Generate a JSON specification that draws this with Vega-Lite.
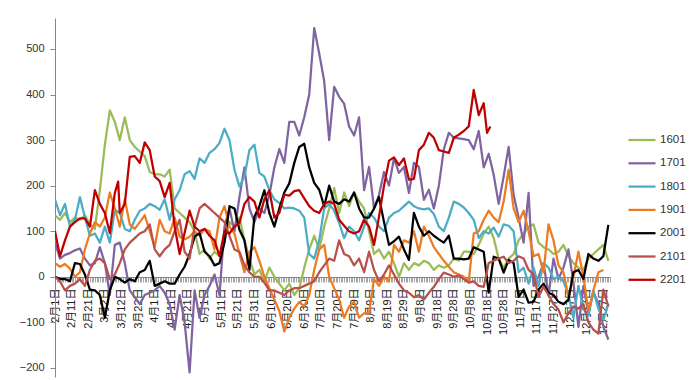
{
  "$schema": "https://vega.github.io/schema/vega-lite/v6.json",
  "width": 555,
  "height": 359,
  "autosize": {"type": "none"},
  "padding": {"left": 55, "top": 18, "right": 86, "bottom": 3},
  "background": "white",
  "config": {"view": {"stroke": null}, "font": "Liberation Sans"},
  "data": {"values": [
{"date":"2016/02/01","series":"1601","value":135},{"date":"2016/02/04","series":"1601","value":125},{"date":"2016/02/07","series":"1601","value":140},{"date":"2016/02/10","series":"1601","value":120},{"date":"2016/02/13","series":"1601","value":130},{"date":"2016/02/16","series":"1601","value":125},{"date":"2016/02/19","series":"1601","value":135},{"date":"2016/02/22","series":"1601","value":115},{"date":"2016/02/25","series":"1601","value":105},{"date":"2016/02/28","series":"1601","value":190},
{"date":"2016/03/02","series":"1601","value":290},{"date":"2016/03/05","series":"1601","value":365},{"date":"2016/03/08","series":"1601","value":340},{"date":"2016/03/11","series":"1601","value":300},{"date":"2016/03/14","series":"1601","value":350},{"date":"2016/03/17","series":"1601","value":300},{"date":"2016/03/20","series":"1601","value":285},{"date":"2016/03/23","series":"1601","value":275},{"date":"2016/03/26","series":"1601","value":265},{"date":"2016/03/29","series":"1601","value":230},
{"date":"2016/04/01","series":"1601","value":225},{"date":"2016/04/04","series":"1601","value":225},{"date":"2016/04/07","series":"1601","value":220},{"date":"2016/04/10","series":"1601","value":235},{"date":"2016/04/13","series":"1601","value":150},{"date":"2016/04/16","series":"1601","value":140},{"date":"2016/04/19","series":"1601","value":130},{"date":"2016/04/22","series":"1601","value":120},{"date":"2016/04/25","series":"1601","value":100},{"date":"2016/04/28","series":"1601","value":50},
{"date":"2016/05/01","series":"1601","value":60},{"date":"2016/05/04","series":"1601","value":40},{"date":"2016/05/07","series":"1601","value":55},{"date":"2016/05/10","series":"1601","value":45},{"date":"2016/05/13","series":"1601","value":80},{"date":"2016/05/16","series":"1601","value":120},{"date":"2016/05/19","series":"1601","value":110},{"date":"2016/05/22","series":"1601","value":130},{"date":"2016/05/25","series":"1601","value":80},{"date":"2016/05/28","series":"1601","value":40},
{"date":"2016/05/31","series":"1601","value":5},{"date":"2016/06/03","series":"1601","value":15},{"date":"2016/06/06","series":"1601","value":-10},{"date":"2016/06/09","series":"1601","value":20},{"date":"2016/06/12","series":"1601","value":0},{"date":"2016/06/15","series":"1601","value":-15},{"date":"2016/06/18","series":"1601","value":-30},{"date":"2016/06/21","series":"1601","value":-15},{"date":"2016/06/24","series":"1601","value":-40},{"date":"2016/06/27","series":"1601","value":-25},
{"date":"2016/06/30","series":"1601","value":20},{"date":"2016/07/03","series":"1601","value":60},{"date":"2016/07/06","series":"1601","value":90},{"date":"2016/07/09","series":"1601","value":60},{"date":"2016/07/12","series":"1601","value":110},{"date":"2016/07/15","series":"1601","value":150},{"date":"2016/07/18","series":"1601","value":195},{"date":"2016/07/21","series":"1601","value":140},{"date":"2016/07/24","series":"1601","value":185},{"date":"2016/07/27","series":"1601","value":155},
{"date":"2016/07/30","series":"1601","value":185},{"date":"2016/08/02","series":"1601","value":165},{"date":"2016/08/05","series":"1601","value":150},{"date":"2016/08/08","series":"1601","value":100},{"date":"2016/08/11","series":"1601","value":50},{"date":"2016/08/14","series":"1601","value":60},{"date":"2016/08/17","series":"1601","value":40},{"date":"2016/08/20","series":"1601","value":55},{"date":"2016/08/23","series":"1601","value":30},{"date":"2016/08/26","series":"1601","value":0},
{"date":"2016/08/29","series":"1601","value":30},{"date":"2016/09/01","series":"1601","value":15},{"date":"2016/09/04","series":"1601","value":30},{"date":"2016/09/07","series":"1601","value":25},{"date":"2016/09/10","series":"1601","value":35},{"date":"2016/09/13","series":"1601","value":30},{"date":"2016/09/16","series":"1601","value":15},{"date":"2016/09/19","series":"1601","value":25},{"date":"2016/09/22","series":"1601","value":20},{"date":"2016/09/25","series":"1601","value":25},
{"date":"2016/09/28","series":"1601","value":40},{"date":"2016/10/01","series":"1601","value":35},{"date":"2016/10/04","series":"1601","value":55},{"date":"2016/10/07","series":"1601","value":55},{"date":"2016/10/10","series":"1601","value":50},{"date":"2016/10/13","series":"1601","value":70},{"date":"2016/10/16","series":"1601","value":95},{"date":"2016/10/19","series":"1601","value":110},{"date":"2016/10/22","series":"1601","value":85},{"date":"2016/10/25","series":"1601","value":40},
{"date":"2016/10/28","series":"1601","value":20},{"date":"2016/10/31","series":"1601","value":40},{"date":"2016/11/03","series":"1601","value":50},{"date":"2016/11/06","series":"1601","value":80},{"date":"2016/11/09","series":"1601","value":95},{"date":"2016/11/12","series":"1601","value":110},{"date":"2016/11/15","series":"1601","value":115},{"date":"2016/11/18","series":"1601","value":75},{"date":"2016/11/21","series":"1601","value":65},{"date":"2016/11/24","series":"1601","value":60},
{"date":"2016/11/27","series":"1601","value":50},{"date":"2016/11/30","series":"1601","value":55},{"date":"2016/12/03","series":"1601","value":70},{"date":"2016/12/06","series":"1601","value":45},{"date":"2016/12/09","series":"1601","value":30},{"date":"2016/12/12","series":"1601","value":20},{"date":"2016/12/15","series":"1601","value":15},{"date":"2016/12/18","series":"1601","value":40},{"date":"2016/12/21","series":"1601","value":50},{"date":"2016/12/24","series":"1601","value":60},
{"date":"2016/12/27","series":"1601","value":70},{"date":"2016/12/30","series":"1601","value":35},

{"date":"2016/02/01","series":"1701","value":75},{"date":"2016/02/04","series":"1701","value":40},{"date":"2016/02/07","series":"1701","value":48},{"date":"2016/02/10","series":"1701","value":52},{"date":"2016/02/13","series":"1701","value":58},{"date":"2016/02/16","series":"1701","value":62},{"date":"2016/02/19","series":"1701","value":40},{"date":"2016/02/22","series":"1701","value":25},{"date":"2016/02/25","series":"1701","value":30},{"date":"2016/02/28","series":"1701","value":65},
{"date":"2016/03/02","series":"1701","value":30},{"date":"2016/03/05","series":"1701","value":-40},{"date":"2016/03/08","series":"1701","value":70},{"date":"2016/03/11","series":"1701","value":75},{"date":"2016/03/14","series":"1701","value":30},{"date":"2016/03/17","series":"1701","value":-30},{"date":"2016/03/20","series":"1701","value":-45},{"date":"2016/03/23","series":"1701","value":-60},{"date":"2016/03/26","series":"1701","value":-40},{"date":"2016/03/29","series":"1701","value":-35},
{"date":"2016/04/01","series":"1701","value":-30},{"date":"2016/04/04","series":"1701","value":-20},{"date":"2016/04/07","series":"1701","value":-35},{"date":"2016/04/10","series":"1701","value":-60},{"date":"2016/04/13","series":"1701","value":-116},{"date":"2016/04/16","series":"1701","value":-40},{"date":"2016/04/19","series":"1701","value":-100},{"date":"2016/04/22","series":"1701","value":-210},{"date":"2016/04/25","series":"1701","value":-30},{"date":"2016/04/28","series":"1701","value":-90},
{"date":"2016/05/01","series":"1701","value":-40},{"date":"2016/05/04","series":"1701","value":-20},{"date":"2016/05/07","series":"1701","value":5},{"date":"2016/05/10","series":"1701","value":-40},{"date":"2016/05/13","series":"1701","value":110},{"date":"2016/05/16","series":"1701","value":150},{"date":"2016/05/19","series":"1701","value":100},{"date":"2016/05/22","series":"1701","value":175},{"date":"2016/05/25","series":"1701","value":240},{"date":"2016/05/28","series":"1701","value":150},
{"date":"2016/05/31","series":"1701","value":120},{"date":"2016/06/03","series":"1701","value":150},{"date":"2016/06/06","series":"1701","value":140},{"date":"2016/06/09","series":"1701","value":180},{"date":"2016/06/12","series":"1701","value":240},{"date":"2016/06/15","series":"1701","value":280},{"date":"2016/06/18","series":"1701","value":250},{"date":"2016/06/21","series":"1701","value":340},{"date":"2016/06/24","series":"1701","value":340},{"date":"2016/06/27","series":"1701","value":310},
{"date":"2016/06/30","series":"1701","value":350},{"date":"2016/07/03","series":"1701","value":400},{"date":"2016/07/06","series":"1701","value":546},{"date":"2016/07/09","series":"1701","value":490},{"date":"2016/07/12","series":"1701","value":430},{"date":"2016/07/15","series":"1701","value":300},{"date":"2016/07/18","series":"1701","value":417},{"date":"2016/07/21","series":"1701","value":395},{"date":"2016/07/24","series":"1701","value":380},{"date":"2016/07/27","series":"1701","value":330},
{"date":"2016/07/30","series":"1701","value":310},{"date":"2016/08/02","series":"1701","value":350},{"date":"2016/08/05","series":"1701","value":190},{"date":"2016/08/08","series":"1701","value":241},{"date":"2016/08/11","series":"1701","value":150},{"date":"2016/08/14","series":"1701","value":180},{"date":"2016/08/17","series":"1701","value":230},{"date":"2016/08/20","series":"1701","value":200},{"date":"2016/08/23","series":"1701","value":260},{"date":"2016/08/26","series":"1701","value":228},
{"date":"2016/08/29","series":"1701","value":241},{"date":"2016/09/01","series":"1701","value":184},{"date":"2016/09/04","series":"1701","value":250},{"date":"2016/09/07","series":"1701","value":241},{"date":"2016/09/10","series":"1701","value":169},{"date":"2016/09/13","series":"1701","value":191},{"date":"2016/09/16","series":"1701","value":150},{"date":"2016/09/19","series":"1701","value":200},{"date":"2016/09/22","series":"1701","value":280},{"date":"2016/09/25","series":"1701","value":316},
{"date":"2016/09/28","series":"1701","value":305},{"date":"2016/10/01","series":"1701","value":304},{"date":"2016/10/04","series":"1701","value":302},{"date":"2016/10/07","series":"1701","value":300},{"date":"2016/10/10","series":"1701","value":280},{"date":"2016/10/13","series":"1701","value":320},{"date":"2016/10/16","series":"1701","value":240},{"date":"2016/10/19","series":"1701","value":270},{"date":"2016/10/22","series":"1701","value":224},{"date":"2016/10/25","series":"1701","value":160},
{"date":"2016/10/28","series":"1701","value":220},{"date":"2016/10/31","series":"1701","value":285},{"date":"2016/11/03","series":"1701","value":180},{"date":"2016/11/06","series":"1701","value":130},{"date":"2016/11/09","series":"1701","value":75},{"date":"2016/11/12","series":"1701","value":184},{"date":"2016/11/15","series":"1701","value":-20},{"date":"2016/11/18","series":"1701","value":0},{"date":"2016/11/21","series":"1701","value":30},{"date":"2016/11/24","series":"1701","value":-40},
{"date":"2016/11/27","series":"1701","value":40},{"date":"2016/11/30","series":"1701","value":-5},{"date":"2016/12/03","series":"1701","value":20},{"date":"2016/12/06","series":"1701","value":60},{"date":"2016/12/09","series":"1701","value":-13},{"date":"2016/12/12","series":"1701","value":-110},{"date":"2016/12/15","series":"1701","value":-20},{"date":"2016/12/18","series":"1701","value":-80},{"date":"2016/12/21","series":"1701","value":-35},{"date":"2016/12/24","series":"1701","value":-57},
{"date":"2016/12/27","series":"1701","value":-110},{"date":"2016/12/30","series":"1701","value":-138},

{"date":"2016/02/01","series":"1801","value":170},{"date":"2016/02/04","series":"1801","value":135},{"date":"2016/02/07","series":"1801","value":160},{"date":"2016/02/10","series":"1801","value":110},{"date":"2016/02/13","series":"1801","value":125},{"date":"2016/02/16","series":"1801","value":175},{"date":"2016/02/19","series":"1801","value":130},{"date":"2016/02/22","series":"1801","value":90},{"date":"2016/02/25","series":"1801","value":95},{"date":"2016/02/28","series":"1801","value":75},
{"date":"2016/03/02","series":"1801","value":110},{"date":"2016/03/05","series":"1801","value":75},{"date":"2016/03/08","series":"1801","value":147},{"date":"2016/03/11","series":"1801","value":140},{"date":"2016/03/14","series":"1801","value":105},{"date":"2016/03/17","series":"1801","value":100},{"date":"2016/03/20","series":"1801","value":125},{"date":"2016/03/23","series":"1801","value":145},{"date":"2016/03/26","series":"1801","value":150},{"date":"2016/03/29","series":"1801","value":160},
{"date":"2016/04/01","series":"1801","value":155},{"date":"2016/04/04","series":"1801","value":147},{"date":"2016/04/07","series":"1801","value":170},{"date":"2016/04/10","series":"1801","value":125},{"date":"2016/04/13","series":"1801","value":170},{"date":"2016/04/16","series":"1801","value":190},{"date":"2016/04/19","series":"1801","value":225},{"date":"2016/04/22","series":"1801","value":232},{"date":"2016/04/25","series":"1801","value":215},{"date":"2016/04/28","series":"1801","value":260},
{"date":"2016/05/01","series":"1801","value":250},{"date":"2016/05/04","series":"1801","value":272},{"date":"2016/05/07","series":"1801","value":280},{"date":"2016/05/10","series":"1801","value":294},{"date":"2016/05/13","series":"1801","value":325},{"date":"2016/05/16","series":"1801","value":300},{"date":"2016/05/19","series":"1801","value":235},{"date":"2016/05/22","series":"1801","value":198},{"date":"2016/05/25","series":"1801","value":220},{"date":"2016/05/28","series":"1801","value":278},
{"date":"2016/05/31","series":"1801","value":290},{"date":"2016/06/03","series":"1801","value":228},{"date":"2016/06/06","series":"1801","value":220},{"date":"2016/06/09","series":"1801","value":190},{"date":"2016/06/12","series":"1801","value":170},{"date":"2016/06/15","series":"1801","value":162},{"date":"2016/06/18","series":"1801","value":150},{"date":"2016/06/21","series":"1801","value":152},{"date":"2016/06/24","series":"1801","value":150},{"date":"2016/06/27","series":"1801","value":145},
{"date":"2016/06/30","series":"1801","value":130},{"date":"2016/07/03","series":"1801","value":50},{"date":"2016/07/06","series":"1801","value":40},{"date":"2016/07/09","series":"1801","value":80},{"date":"2016/07/12","series":"1801","value":150},{"date":"2016/07/15","series":"1801","value":160},{"date":"2016/07/18","series":"1801","value":145},{"date":"2016/07/21","series":"1801","value":118},{"date":"2016/07/24","series":"1801","value":85},{"date":"2016/07/27","series":"1801","value":110},
{"date":"2016/07/30","series":"1801","value":100},{"date":"2016/08/02","series":"1801","value":80},{"date":"2016/08/05","series":"1801","value":110},{"date":"2016/08/08","series":"1801","value":140},{"date":"2016/08/11","series":"1801","value":130},{"date":"2016/08/14","series":"1801","value":110},{"date":"2016/08/17","series":"1801","value":100},{"date":"2016/08/20","series":"1801","value":130},{"date":"2016/08/23","series":"1801","value":140},{"date":"2016/08/26","series":"1801","value":145},
{"date":"2016/08/29","series":"1801","value":155},{"date":"2016/09/01","series":"1801","value":165},{"date":"2016/09/04","series":"1801","value":155},{"date":"2016/09/07","series":"1801","value":150},{"date":"2016/09/10","series":"1801","value":148},{"date":"2016/09/13","series":"1801","value":150},{"date":"2016/09/16","series":"1801","value":138},{"date":"2016/09/19","series":"1801","value":110},{"date":"2016/09/22","series":"1801","value":100},{"date":"2016/09/25","series":"1801","value":130},
{"date":"2016/09/28","series":"1801","value":165},{"date":"2016/10/01","series":"1801","value":160},{"date":"2016/10/04","series":"1801","value":152},{"date":"2016/10/07","series":"1801","value":140},{"date":"2016/10/10","series":"1801","value":125},{"date":"2016/10/13","series":"1801","value":85},{"date":"2016/10/16","series":"1801","value":100},{"date":"2016/10/19","series":"1801","value":95},{"date":"2016/10/22","series":"1801","value":108},{"date":"2016/10/25","series":"1801","value":88},
{"date":"2016/10/28","series":"1801","value":115},{"date":"2016/10/31","series":"1801","value":112},{"date":"2016/11/03","series":"1801","value":100},{"date":"2016/11/06","series":"1801","value":10},{"date":"2016/11/09","series":"1801","value":20},{"date":"2016/11/12","series":"1801","value":-15},{"date":"2016/11/15","series":"1801","value":20},{"date":"2016/11/18","series":"1801","value":-20},{"date":"2016/11/21","series":"1801","value":30},{"date":"2016/11/24","series":"1801","value":20},
{"date":"2016/11/27","series":"1801","value":-5},{"date":"2016/11/30","series":"1801","value":0},{"date":"2016/12/03","series":"1801","value":-10},{"date":"2016/12/06","series":"1801","value":-40},{"date":"2016/12/09","series":"1801","value":-90},{"date":"2016/12/12","series":"1801","value":-20},{"date":"2016/12/15","series":"1801","value":-70},{"date":"2016/12/18","series":"1801","value":-85},{"date":"2016/12/21","series":"1801","value":-30},{"date":"2016/12/24","series":"1801","value":-70},
{"date":"2016/12/27","series":"1801","value":-94},{"date":"2016/12/30","series":"1801","value":-60},

{"date":"2016/02/01","series":"1901","value":30},{"date":"2016/02/04","series":"1901","value":22},{"date":"2016/02/07","series":"1901","value":28},{"date":"2016/02/10","series":"1901","value":18},{"date":"2016/02/13","series":"1901","value":0},{"date":"2016/02/16","series":"1901","value":10},{"date":"2016/02/19","series":"1901","value":60},{"date":"2016/02/22","series":"1901","value":95},{"date":"2016/02/25","series":"1901","value":120},{"date":"2016/02/28","series":"1901","value":110},
{"date":"2016/03/02","series":"1901","value":130},{"date":"2016/03/05","series":"1901","value":185},{"date":"2016/03/08","series":"1901","value":150},{"date":"2016/03/11","series":"1901","value":110},{"date":"2016/03/14","series":"1901","value":170},{"date":"2016/03/17","series":"1901","value":115},{"date":"2016/03/20","series":"1901","value":105},{"date":"2016/03/23","series":"1901","value":120},{"date":"2016/03/26","series":"1901","value":135},{"date":"2016/03/29","series":"1901","value":100},
{"date":"2016/04/01","series":"1901","value":66},{"date":"2016/04/04","series":"1901","value":125},{"date":"2016/04/07","series":"1901","value":100},{"date":"2016/04/10","series":"1901","value":95},{"date":"2016/04/13","series":"1901","value":130},{"date":"2016/04/16","series":"1901","value":88},{"date":"2016/04/19","series":"1901","value":82},{"date":"2016/04/22","series":"1901","value":88},{"date":"2016/04/25","series":"1901","value":100},{"date":"2016/04/28","series":"1901","value":90},
{"date":"2016/05/01","series":"1901","value":105},{"date":"2016/05/04","series":"1901","value":100},{"date":"2016/05/07","series":"1901","value":60},{"date":"2016/05/10","series":"1901","value":130},{"date":"2016/05/13","series":"1901","value":155},{"date":"2016/05/16","series":"1901","value":110},{"date":"2016/05/19","series":"1901","value":95},{"date":"2016/05/22","series":"1901","value":50},{"date":"2016/05/25","series":"1901","value":10},{"date":"2016/05/28","series":"1901","value":55},
{"date":"2016/05/31","series":"1901","value":65},{"date":"2016/06/03","series":"1901","value":35},{"date":"2016/06/06","series":"1901","value":0},{"date":"2016/06/09","series":"1901","value":-25},{"date":"2016/06/12","series":"1901","value":-50},{"date":"2016/06/15","series":"1901","value":-75},{"date":"2016/06/18","series":"1901","value":-120},{"date":"2016/06/21","series":"1901","value":-90},{"date":"2016/06/24","series":"1901","value":-70},{"date":"2016/06/27","series":"1901","value":-55},
{"date":"2016/06/30","series":"1901","value":-65},{"date":"2016/07/03","series":"1901","value":-40},{"date":"2016/07/06","series":"1901","value":15},{"date":"2016/07/09","series":"1901","value":60},{"date":"2016/07/12","series":"1901","value":70},{"date":"2016/07/15","series":"1901","value":0},{"date":"2016/07/18","series":"1901","value":-25},{"date":"2016/07/21","series":"1901","value":-50},{"date":"2016/07/24","series":"1901","value":-90},{"date":"2016/07/27","series":"1901","value":-65},
{"date":"2016/07/30","series":"1901","value":-55},{"date":"2016/08/02","series":"1901","value":-90},{"date":"2016/08/05","series":"1901","value":-80},{"date":"2016/08/08","series":"1901","value":-80},{"date":"2016/08/11","series":"1901","value":-5},{"date":"2016/08/14","series":"1901","value":-20},{"date":"2016/08/17","series":"1901","value":0},{"date":"2016/08/20","series":"1901","value":-10},{"date":"2016/08/23","series":"1901","value":70},{"date":"2016/08/26","series":"1901","value":55},
{"date":"2016/08/29","series":"1901","value":80},{"date":"2016/09/01","series":"1901","value":75},{"date":"2016/09/04","series":"1901","value":100},{"date":"2016/09/07","series":"1901","value":55},{"date":"2016/09/10","series":"1901","value":110},{"date":"2016/09/13","series":"1901","value":90},{"date":"2016/09/16","series":"1901","value":65},{"date":"2016/09/19","series":"1901","value":50},{"date":"2016/09/22","series":"1901","value":35},{"date":"2016/09/25","series":"1901","value":22},
{"date":"2016/09/28","series":"1901","value":10},{"date":"2016/10/01","series":"1901","value":5},{"date":"2016/10/04","series":"1901","value":0},{"date":"2016/10/07","series":"1901","value":-10},{"date":"2016/10/10","series":"1901","value":95},{"date":"2016/10/13","series":"1901","value":100},{"date":"2016/10/16","series":"1901","value":125},{"date":"2016/10/19","series":"1901","value":145},{"date":"2016/10/22","series":"1901","value":130},{"date":"2016/10/25","series":"1901","value":120},
{"date":"2016/10/28","series":"1901","value":165},{"date":"2016/10/31","series":"1901","value":235},{"date":"2016/11/03","series":"1901","value":150},{"date":"2016/11/06","series":"1901","value":120},{"date":"2016/11/09","series":"1901","value":145},{"date":"2016/11/12","series":"1901","value":100},{"date":"2016/11/15","series":"1901","value":45},{"date":"2016/11/18","series":"1901","value":50},{"date":"2016/11/21","series":"1901","value":10},{"date":"2016/11/24","series":"1901","value":115},
{"date":"2016/11/27","series":"1901","value":80},{"date":"2016/11/30","series":"1901","value":25},{"date":"2016/12/03","series":"1901","value":10},{"date":"2016/12/06","series":"1901","value":-45},{"date":"2016/12/09","series":"1901","value":0},{"date":"2016/12/12","series":"1901","value":55},{"date":"2016/12/15","series":"1901","value":0},{"date":"2016/12/18","series":"1901","value":-75},{"date":"2016/12/21","series":"1901","value":-30},{"date":"2016/12/24","series":"1901","value":10},
{"date":"2016/12/27","series":"1901","value":15},

{"date":"2016/02/01","series":"2001","value":0},{"date":"2016/02/04","series":"2001","value":-5},{"date":"2016/02/07","series":"2001","value":-5},{"date":"2016/02/10","series":"2001","value":-10},{"date":"2016/02/13","series":"2001","value":30},{"date":"2016/02/16","series":"2001","value":28},{"date":"2016/02/19","series":"2001","value":5},{"date":"2016/02/22","series":"2001","value":-28},{"date":"2016/02/25","series":"2001","value":-30},{"date":"2016/02/28","series":"2001","value":-40},
{"date":"2016/03/02","series":"2001","value":-90},{"date":"2016/03/05","series":"2001","value":-30},{"date":"2016/03/08","series":"2001","value":0},{"date":"2016/03/11","series":"2001","value":-5},{"date":"2016/03/14","series":"2001","value":-13},{"date":"2016/03/17","series":"2001","value":-5},{"date":"2016/03/20","series":"2001","value":-10},{"date":"2016/03/23","series":"2001","value":10},{"date":"2016/03/26","series":"2001","value":15},{"date":"2016/03/29","series":"2001","value":35},
{"date":"2016/04/01","series":"2001","value":-20},{"date":"2016/04/04","series":"2001","value":-15},{"date":"2016/04/07","series":"2001","value":-10},{"date":"2016/04/10","series":"2001","value":-15},{"date":"2016/04/13","series":"2001","value":-15},{"date":"2016/04/16","series":"2001","value":5},{"date":"2016/04/19","series":"2001","value":22},{"date":"2016/04/22","series":"2001","value":50},{"date":"2016/04/25","series":"2001","value":88},{"date":"2016/04/28","series":"2001","value":96},
{"date":"2016/05/01","series":"2001","value":55},{"date":"2016/05/04","series":"2001","value":45},{"date":"2016/05/07","series":"2001","value":25},{"date":"2016/05/10","series":"2001","value":30},{"date":"2016/05/13","series":"2001","value":75},{"date":"2016/05/16","series":"2001","value":155},{"date":"2016/05/19","series":"2001","value":150},{"date":"2016/05/22","series":"2001","value":103},{"date":"2016/05/25","series":"2001","value":80},{"date":"2016/05/28","series":"2001","value":15},
{"date":"2016/05/31","series":"2001","value":132},{"date":"2016/06/03","series":"2001","value":155},{"date":"2016/06/06","series":"2001","value":190},{"date":"2016/06/09","series":"2001","value":140},{"date":"2016/06/12","series":"2001","value":110},{"date":"2016/06/15","series":"2001","value":150},{"date":"2016/06/18","series":"2001","value":185},{"date":"2016/06/21","series":"2001","value":205},{"date":"2016/06/24","series":"2001","value":250},{"date":"2016/06/27","series":"2001","value":285},
{"date":"2016/06/30","series":"2001","value":292},{"date":"2016/07/03","series":"2001","value":240},{"date":"2016/07/06","series":"2001","value":206},{"date":"2016/07/09","series":"2001","value":191},{"date":"2016/07/12","series":"2001","value":155},{"date":"2016/07/15","series":"2001","value":200},{"date":"2016/07/18","series":"2001","value":165},{"date":"2016/07/21","series":"2001","value":160},{"date":"2016/07/24","series":"2001","value":170},{"date":"2016/07/27","series":"2001","value":165},
{"date":"2016/07/30","series":"2001","value":185},{"date":"2016/08/02","series":"2001","value":150},{"date":"2016/08/05","series":"2001","value":130},{"date":"2016/08/08","series":"2001","value":130},{"date":"2016/08/11","series":"2001","value":150},{"date":"2016/08/14","series":"2001","value":175},{"date":"2016/08/17","series":"2001","value":120},{"date":"2016/08/20","series":"2001","value":70},{"date":"2016/08/23","series":"2001","value":78},{"date":"2016/08/26","series":"2001","value":88},
{"date":"2016/08/29","series":"2001","value":60},{"date":"2016/09/01","series":"2001","value":37},{"date":"2016/09/04","series":"2001","value":140},{"date":"2016/09/07","series":"2001","value":110},{"date":"2016/09/10","series":"2001","value":90},{"date":"2016/09/13","series":"2001","value":100},{"date":"2016/09/16","series":"2001","value":90},{"date":"2016/09/19","series":"2001","value":82},{"date":"2016/09/22","series":"2001","value":75},{"date":"2016/09/25","series":"2001","value":90},
{"date":"2016/09/28","series":"2001","value":40},{"date":"2016/10/01","series":"2001","value":40},{"date":"2016/10/04","series":"2001","value":38},{"date":"2016/10/07","series":"2001","value":40},{"date":"2016/10/10","series":"2001","value":65},{"date":"2016/10/13","series":"2001","value":60},{"date":"2016/10/16","series":"2001","value":55},{"date":"2016/10/19","series":"2001","value":-35},{"date":"2016/10/22","series":"2001","value":44},{"date":"2016/10/25","series":"2001","value":40},
{"date":"2016/10/28","series":"2001","value":9},{"date":"2016/10/31","series":"2001","value":37},{"date":"2016/11/03","series":"2001","value":30},{"date":"2016/11/06","series":"2001","value":-44},{"date":"2016/11/09","series":"2001","value":-28},{"date":"2016/11/12","series":"2001","value":-57},{"date":"2016/11/15","series":"2001","value":-55},{"date":"2016/11/18","series":"2001","value":-28},{"date":"2016/11/21","series":"2001","value":-15},{"date":"2016/11/24","series":"2001","value":-35},
{"date":"2016/11/27","series":"2001","value":-40},{"date":"2016/11/30","series":"2001","value":-55},{"date":"2016/12/03","series":"2001","value":-60},{"date":"2016/12/06","series":"2001","value":-50},{"date":"2016/12/09","series":"2001","value":10},{"date":"2016/12/12","series":"2001","value":15},{"date":"2016/12/15","series":"2001","value":-5},{"date":"2016/12/18","series":"2001","value":50},{"date":"2016/12/21","series":"2001","value":40},{"date":"2016/12/24","series":"2001","value":35},
{"date":"2016/12/27","series":"2001","value":45},{"date":"2016/12/30","series":"2001","value":114},

{"date":"2016/02/01","series":"2101","value":0},{"date":"2016/02/04","series":"2101","value":-10},{"date":"2016/02/07","series":"2101","value":-30},{"date":"2016/02/10","series":"2101","value":-20},{"date":"2016/02/13","series":"2101","value":-15},{"date":"2016/02/16","series":"2101","value":-5},{"date":"2016/02/19","series":"2101","value":-20},{"date":"2016/02/22","series":"2101","value":15},{"date":"2016/02/25","series":"2101","value":35},{"date":"2016/02/28","series":"2101","value":40},
{"date":"2016/03/02","series":"2101","value":30},{"date":"2016/03/05","series":"2101","value":-5},{"date":"2016/03/08","series":"2101","value":5},{"date":"2016/03/11","series":"2101","value":30},{"date":"2016/03/14","series":"2101","value":60},{"date":"2016/03/17","series":"2101","value":75},{"date":"2016/03/20","series":"2101","value":85},{"date":"2016/03/23","series":"2101","value":95},{"date":"2016/03/26","series":"2101","value":100},{"date":"2016/03/29","series":"2101","value":115},
{"date":"2016/04/01","series":"2101","value":60},{"date":"2016/04/04","series":"2101","value":45},{"date":"2016/04/07","series":"2101","value":60},{"date":"2016/04/10","series":"2101","value":70},{"date":"2016/04/13","series":"2101","value":100},{"date":"2016/04/16","series":"2101","value":125},{"date":"2016/04/19","series":"2101","value":55},{"date":"2016/04/22","series":"2101","value":40},{"date":"2016/04/25","series":"2101","value":110},{"date":"2016/04/28","series":"2101","value":150},
{"date":"2016/05/01","series":"2101","value":160},{"date":"2016/05/04","series":"2101","value":150},{"date":"2016/05/07","series":"2101","value":140},{"date":"2016/05/10","series":"2101","value":130},{"date":"2016/05/13","series":"2101","value":120},{"date":"2016/05/16","series":"2101","value":90},{"date":"2016/05/19","series":"2101","value":60},{"date":"2016/05/22","series":"2101","value":55},{"date":"2016/05/25","series":"2101","value":25},{"date":"2016/05/28","series":"2101","value":10},
{"date":"2016/05/31","series":"2101","value":0},{"date":"2016/06/03","series":"2101","value":0},{"date":"2016/06/06","series":"2101","value":-13},{"date":"2016/06/09","series":"2101","value":-30},{"date":"2016/06/12","series":"2101","value":-30},{"date":"2016/06/15","series":"2101","value":-35},{"date":"2016/06/18","series":"2101","value":-40},{"date":"2016/06/21","series":"2101","value":-30},{"date":"2016/06/24","series":"2101","value":-25},{"date":"2016/06/27","series":"2101","value":-25},
{"date":"2016/06/30","series":"2101","value":-20},{"date":"2016/07/03","series":"2101","value":-15},{"date":"2016/07/06","series":"2101","value":-10},{"date":"2016/07/09","series":"2101","value":10},{"date":"2016/07/12","series":"2101","value":25},{"date":"2016/07/15","series":"2101","value":40},{"date":"2016/07/18","series":"2101","value":35},{"date":"2016/07/21","series":"2101","value":80},{"date":"2016/07/24","series":"2101","value":50},{"date":"2016/07/27","series":"2101","value":45},
{"date":"2016/07/30","series":"2101","value":25},{"date":"2016/08/02","series":"2101","value":40},{"date":"2016/08/05","series":"2101","value":10},{"date":"2016/08/08","series":"2101","value":55},{"date":"2016/08/11","series":"2101","value":15},{"date":"2016/08/14","series":"2101","value":-10},{"date":"2016/08/17","series":"2101","value":5},{"date":"2016/08/20","series":"2101","value":25},{"date":"2016/08/23","series":"2101","value":5},{"date":"2016/08/26","series":"2101","value":-15},
{"date":"2016/08/29","series":"2101","value":-30},{"date":"2016/09/01","series":"2101","value":-35},{"date":"2016/09/04","series":"2101","value":-45},{"date":"2016/09/07","series":"2101","value":-40},{"date":"2016/09/10","series":"2101","value":-50},{"date":"2016/09/13","series":"2101","value":-35},{"date":"2016/09/16","series":"2101","value":-22},{"date":"2016/09/19","series":"2101","value":-5},{"date":"2016/09/22","series":"2101","value":9},{"date":"2016/09/25","series":"2101","value":5},
{"date":"2016/09/28","series":"2101","value":0},{"date":"2016/10/01","series":"2101","value":3},{"date":"2016/10/04","series":"2101","value":-5},{"date":"2016/10/07","series":"2101","value":-13},{"date":"2016/10/10","series":"2101","value":-10},{"date":"2016/10/13","series":"2101","value":-20},{"date":"2016/10/16","series":"2101","value":-22},{"date":"2016/10/19","series":"2101","value":30},{"date":"2016/10/22","series":"2101","value":35},{"date":"2016/10/25","series":"2101","value":40},
{"date":"2016/10/28","series":"2101","value":44},{"date":"2016/10/31","series":"2101","value":30},{"date":"2016/11/03","series":"2101","value":35},{"date":"2016/11/06","series":"2101","value":45},{"date":"2016/11/09","series":"2101","value":40},{"date":"2016/11/12","series":"2101","value":15},{"date":"2016/11/15","series":"2101","value":5},{"date":"2016/11/18","series":"2101","value":-44},{"date":"2016/11/21","series":"2101","value":-22},{"date":"2016/11/24","series":"2101","value":-40},
{"date":"2016/11/27","series":"2101","value":-60},{"date":"2016/11/30","series":"2101","value":-72},{"date":"2016/12/03","series":"2101","value":-100},{"date":"2016/12/06","series":"2101","value":-80},{"date":"2016/12/09","series":"2101","value":-65},{"date":"2016/12/12","series":"2101","value":-70},{"date":"2016/12/15","series":"2101","value":-60},{"date":"2016/12/18","series":"2101","value":-100},{"date":"2016/12/21","series":"2101","value":-116},{"date":"2016/12/24","series":"2101","value":-125},
{"date":"2016/12/27","series":"2101","value":-28},{"date":"2016/12/30","series":"2101","value":-65},

{"date":"2016/02/01","series":"2201","value":100},{"date":"2016/02/04","series":"2201","value":45},{"date":"2016/02/07","series":"2201","value":80},{"date":"2016/02/10","series":"2201","value":110},{"date":"2016/02/13","series":"2201","value":120},{"date":"2016/02/16","series":"2201","value":128},{"date":"2016/02/19","series":"2201","value":128},{"date":"2016/02/22","series":"2201","value":110},{"date":"2016/02/25","series":"2201","value":190},{"date":"2016/02/28","series":"2201","value":160},
{"date":"2016/03/02","series":"2201","value":140},{"date":"2016/03/05","series":"2201","value":96},{"date":"2016/03/08","series":"2201","value":184},{"date":"2016/03/10","series":"2201","value":209},{"date":"2016/03/11","series":"2201","value":140},{"date":"2016/03/14","series":"2201","value":160},{"date":"2016/03/17","series":"2201","value":263},{"date":"2016/03/20","series":"2201","value":265},{"date":"2016/03/23","series":"2201","value":250},{"date":"2016/03/26","series":"2201","value":295},{"date":"2016/03/29","series":"2201","value":278},
{"date":"2016/04/01","series":"2201","value":220},{"date":"2016/04/04","series":"2201","value":210},{"date":"2016/04/07","series":"2201","value":175},{"date":"2016/04/10","series":"2201","value":206},{"date":"2016/04/13","series":"2201","value":110},{"date":"2016/04/16","series":"2201","value":50},{"date":"2016/04/19","series":"2201","value":96},{"date":"2016/04/22","series":"2201","value":145},{"date":"2016/04/25","series":"2201","value":110},{"date":"2016/04/28","series":"2201","value":100},
{"date":"2016/05/01","series":"2201","value":105},{"date":"2016/05/04","series":"2201","value":90},{"date":"2016/05/07","series":"2201","value":80},{"date":"2016/05/10","series":"2201","value":45},{"date":"2016/05/13","series":"2201","value":100},{"date":"2016/05/16","series":"2201","value":95},{"date":"2016/05/19","series":"2201","value":110},{"date":"2016/05/22","series":"2201","value":118},{"date":"2016/05/25","series":"2201","value":160},{"date":"2016/05/28","series":"2201","value":175},
{"date":"2016/05/31","series":"2201","value":165},{"date":"2016/06/03","series":"2201","value":130},{"date":"2016/06/06","series":"2201","value":170},{"date":"2016/06/09","series":"2201","value":190},{"date":"2016/06/12","series":"2201","value":130},{"date":"2016/06/15","series":"2201","value":140},{"date":"2016/06/18","series":"2201","value":180},{"date":"2016/06/21","series":"2201","value":178},{"date":"2016/06/24","series":"2201","value":188},{"date":"2016/06/27","series":"2201","value":190},
{"date":"2016/06/30","series":"2201","value":172},{"date":"2016/07/03","series":"2201","value":155},{"date":"2016/07/06","series":"2201","value":145},{"date":"2016/07/09","series":"2201","value":140},{"date":"2016/07/12","series":"2201","value":160},{"date":"2016/07/15","series":"2201","value":165},{"date":"2016/07/18","series":"2201","value":160},{"date":"2016/07/21","series":"2201","value":125},{"date":"2016/07/24","series":"2201","value":112},{"date":"2016/07/27","series":"2201","value":100},
{"date":"2016/07/30","series":"2201","value":95},{"date":"2016/08/02","series":"2201","value":100},{"date":"2016/08/05","series":"2201","value":125},{"date":"2016/08/08","series":"2201","value":110},{"date":"2016/08/11","series":"2201","value":70},{"date":"2016/08/14","series":"2201","value":132},{"date":"2016/08/17","series":"2201","value":200},{"date":"2016/08/20","series":"2201","value":255},{"date":"2016/08/23","series":"2201","value":262},{"date":"2016/08/26","series":"2201","value":245},
{"date":"2016/08/29","series":"2201","value":260},{"date":"2016/09/01","series":"2201","value":213},{"date":"2016/09/04","series":"2201","value":215},{"date":"2016/09/07","series":"2201","value":278},{"date":"2016/09/10","series":"2201","value":290},{"date":"2016/09/13","series":"2201","value":316},{"date":"2016/09/16","series":"2201","value":305},{"date":"2016/09/19","series":"2201","value":278},{"date":"2016/09/22","series":"2201","value":275},{"date":"2016/09/25","series":"2201","value":272},
{"date":"2016/09/28","series":"2201","value":305},{"date":"2016/10/01","series":"2201","value":312},{"date":"2016/10/04","series":"2201","value":320},{"date":"2016/10/07","series":"2201","value":330},{"date":"2016/10/10","series":"2201","value":410},{"date":"2016/10/13","series":"2201","value":355},{"date":"2016/10/16","series":"2201","value":381},{"date":"2016/10/18","series":"2201","value":316},{"date":"2016/10/20","series":"2201","value":330}
  ]},
  "mark": {"type": "line", "strokeJoin": "round", "clip": true},
  "encoding": {
    "x": {
      "field": "date",
      "type": "temporal",
      "scale": {"domain": [{"year": 2016, "month": 2, "date": 1}, {"year": 2016, "month": 12, "date": 31}]},
      "axis": {
        "title": null,
        "offset": -100,
        "grid": false,
        "tickCount": {"interval": "day", "step": 1},
        "labelExpr": "(round((datum.value - datetime(2016, 1, 1)) / 86400000) % 10 == 0) ? timeFormat(datum.value, '%-m月%-d日') : ''",
        "labelAngle": -90,
        "labelOverlap": false,
        "labelBound": false,
        "labelFlush": false,
        "labelFont": "Liberation Sans, Noto Sans CJK SC",
        "labelFontSize": 11,
        "labelColor": "#1a1a1a",
        "labelPadding": 6,
        "tickSize": 5,
        "tickColor": "#a6a6a6",
        "domainColor": "#868686"
      }
    },
    "y": {
      "field": "value",
      "type": "quantitative",
      "scale": {"domain": [-220, 568], "nice": false, "zero": false},
      "axis": {
        "title": null,
        "grid": false,
        "values": [-200, -100, 0, 100, 200, 300, 400, 500],
        "tickSize": 5,
        "labelPadding": 6,
        "labelFontSize": 11,
        "labelColor": "#333333",
        "domainColor": "#868686",
        "tickColor": "#868686"
      }
    },
    "color": {
      "field": "series",
      "type": "nominal",
      "scale": {
        "domain": ["1601", "1701", "1801", "1901", "2001", "2101", "2201"],
        "range": ["#9BBB59", "#8064A2", "#4BACC6", "#EE7B22", "#000000", "#B8504C", "#C00000"]
      },
      "legend": {"title": null, "orient": "none", "legendX": 572, "legendY": 107, "padding": 0, "symbolType": "stroke", "symbolSize": 729, "rowPadding": 2.3, "labelFontSize": 11.5, "labelColor": "#333333", "labelOffset": 3}
    },
    "strokeWidth": {
      "field": "series",
      "type": "nominal",
      "scale": {
        "domain": ["1601", "1701", "1801", "1901", "2001", "2101", "2201"],
        "range": [2.25, 2.25, 2.25, 3.25, 3.25, 3.25, 3.25]
      },
      "legend": {"title": null, "orient": "none", "legendX": 572, "legendY": 107, "padding": 0, "symbolType": "stroke", "symbolSize": 729, "rowPadding": 2.3, "labelFontSize": 11.5, "labelColor": "#333333", "labelOffset": 3}
    }
  }
}
